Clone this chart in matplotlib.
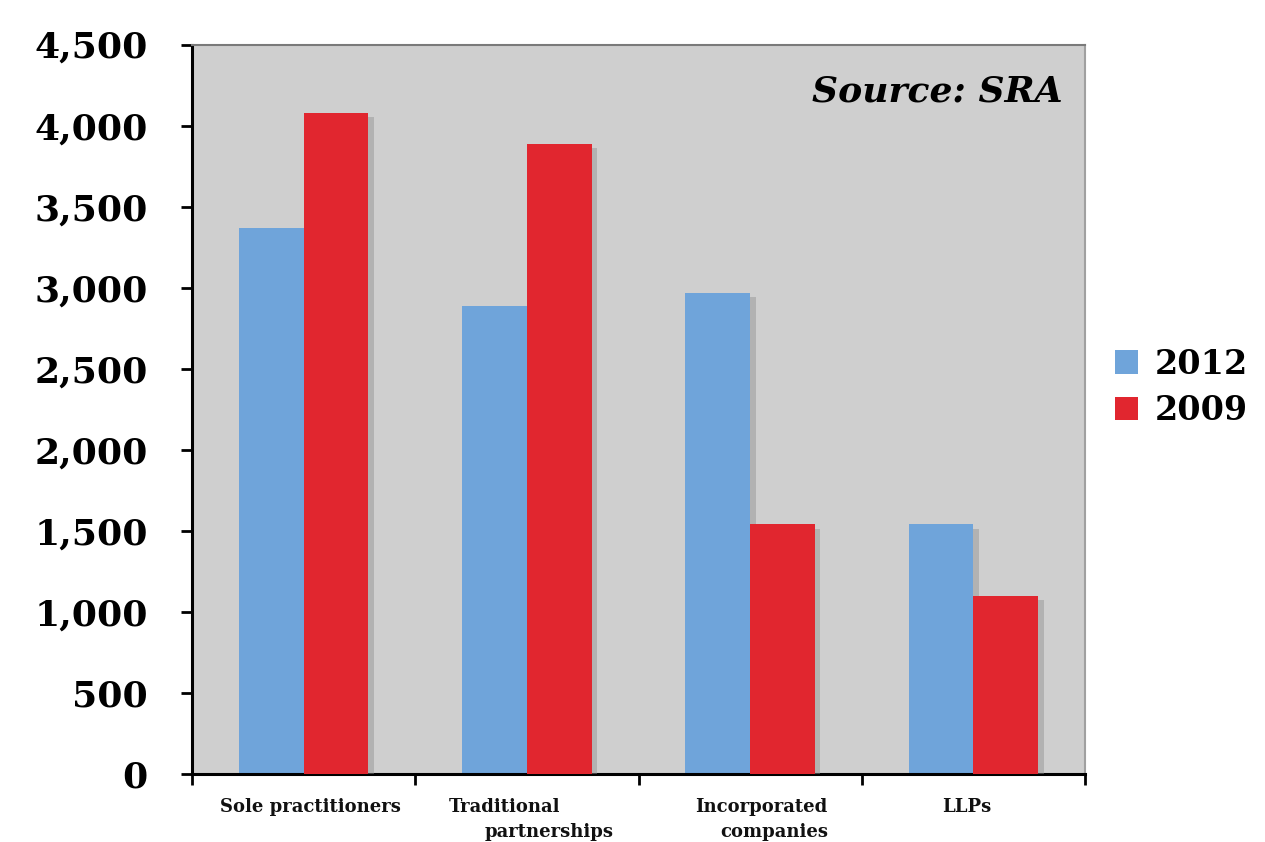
import matplotlib
matplotlib.use("Agg")
import matplotlib.pyplot as plt
import matplotlib.patheffects as pe
import numpy as np

categories = ["Sole practitioners", "Traditional\npartnerships", "Incorporated\ncompanies", "LLPs"]
values_2012 = [3370, 2890, 2970, 1540]
values_2009 = [4080, 3885, 1540, 1100]
y_ticks = [0, 500, 1000, 1500, 2000, 2500, 3000, 3500, 4000, 4500]

BLUE = "#6FA4DA"
RED = "#E1262F"
BG = "#CFCFCF"

fig = plt.figure(figsize=(12.65, 8.42), dpi=100)
ax = fig.add_axes([0.1518, 0.0808, 0.7059, 0.8663])
ax.set_facecolor(BG)

x = np.arange(len(categories))
w = 0.29
shadow = [pe.SimplePatchShadow(offset=(4, -3), shadow_rgbFace="#909090", alpha=0.45), pe.Normal()]
b1 = ax.bar(x - w / 2, values_2012, w, color=BLUE, label="2012", zorder=2)
b2 = ax.bar(x + w / 2, values_2009, w, color=RED, label="2009", zorder=3)
for p in list(b1) + list(b2):
    p.set_path_effects(shadow)

ax.set_xlim(-0.5, len(categories) - 0.5)
ax.set_ylim(0, 4500)
ax.set_yticks(y_ticks)
ax.set_yticklabels([f"{v:,}" for v in y_ticks], family="DejaVu Serif", fontweight="heavy", fontsize=26)
ax.tick_params(axis="y", direction="out", length=8, width=2, pad=24, color="black")

ax.set_xticks(np.arange(-0.5, len(categories)))
ax.set_xticklabels([])
ax.tick_params(axis="x", direction="out", length=8, width=2, color="black")

for s in ["left", "bottom"]:
    ax.spines[s].set_linewidth(2.2)
    ax.spines[s].set_color("black")
ax.spines["top"].set_color("#7a7a7a")
ax.spines["top"].set_linewidth(1.5)
ax.spines["right"].set_color("#a0a0a0")
ax.spines["right"].set_linewidth(1.5)

# category labels, lines staggered as in the original
label_font = dict(family="DejaVu Serif", fontweight="bold", fontsize=13, color="#111111")
tr = ax.get_xaxis_transform()
ax.text(0.03, -0.045, "Sole practitioners", transform=tr, ha="center", va="center", **label_font)
ax.text(1 - 0.1, -0.045, "Traditional", transform=tr, ha="center", va="center", **label_font)
ax.text(1 + 0.1, -0.08, "partnerships", transform=tr, ha="center", va="center", **label_font)
ax.text(2 + 0.05, -0.045, "Incorporated", transform=tr, ha="center", va="center", **label_font)
ax.text(2 + 0.11, -0.08, "companies", transform=tr, ha="center", va="center", **label_font)
ax.text(3 - 0.03, -0.045, "LLPs", transform=tr, ha="center", va="center", **label_font)

ax.text(0.975, 0.935, "Source: SRA", transform=ax.transAxes, ha="right", va="center",
        family="DejaVu Serif", fontweight="heavy", style="italic", fontsize=26)

leg = ax.legend(loc="center left", bbox_to_anchor=(1.0, 0.53), frameon=False,
                prop=dict(family="DejaVu Serif", weight="heavy", size=24),
                handlelength=0.7, handleheight=0.7, handletextpad=0.5, labelspacing=0.4)
for h in leg.legend_handles:
    h.set_path_effects([])

fig.savefig("out.png", dpi=100)
